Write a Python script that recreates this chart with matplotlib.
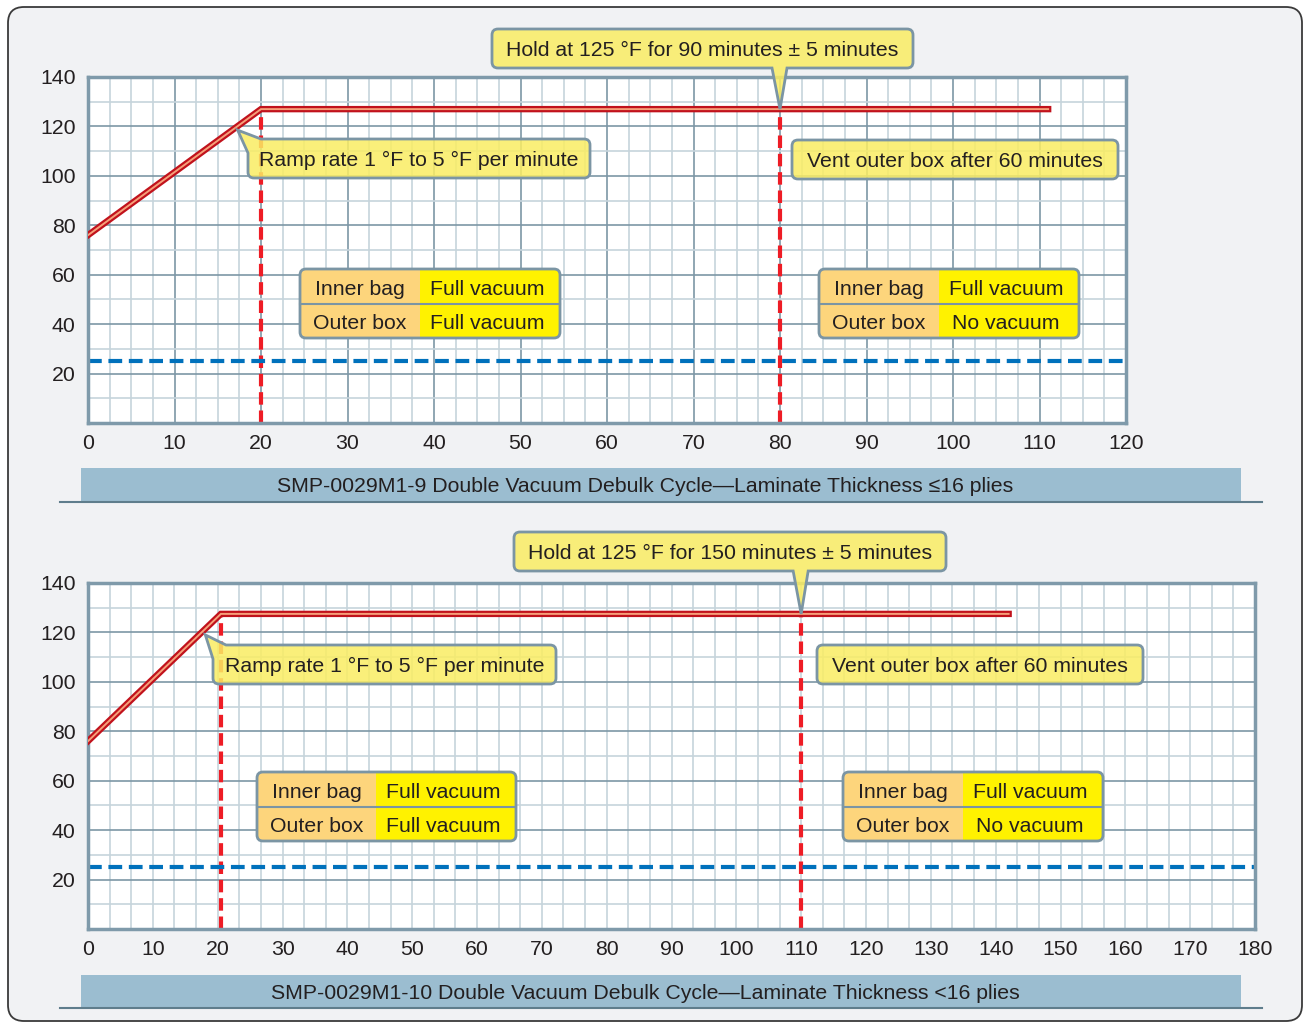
import numpy as np
import matplotlib
matplotlib.use("Agg")
import matplotlib.pyplot as plt
from matplotlib.path import Path
from matplotlib.patches import PathPatch, Rectangle, FancyBboxPatch

plt.rcParams['font.family'] = ['Liberation Sans', 'DejaVu Sans']

W, H = 1308, 1025
FS = 15.3

# ---- data ----
# upper chart: SMP-0029M1-9
times_top = [0, 20, 111]
temps_top = [76, 127, 127]
vent_lines_top = [20, 80]
# lower chart: SMP-0029M1-10
times_bot = [0, 20.5, 142]
temps_bot = [76, 127.5, 127.5]
vent_lines_bot = [20.5, 110]
vacuum_level = 25

xmax_top, xmax_bot = 120, 180
ylim = (0, 140)
yticks = [20, 40, 60, 80, 100, 120, 140]

hold_text_top = "Hold at 125 °F for 90 minutes ± 5 minutes"
hold_text_bot = "Hold at 125 °F for 150 minutes ± 5 minutes"
ramp_text = "Ramp rate 1 °F to 5 °F per minute"
vent_text = "Vent outer box after 60 minutes"
table_rows = ["Inner bag", "Outer box"]
table_left = ["Full vacuum", "Full vacuum"]
table_right = ["Full vacuum", "No vacuum"]
caption_top = "SMP-0029M1-9 Double Vacuum Debulk Cycle\u2014Laminate Thickness \u226416 plies"
caption_bot = "SMP-0029M1-10 Double Vacuum Debulk Cycle\u2014Laminate Thickness <16 plies"

# ---- colours ----
TXT = '#231f20'
MAJ = '#7d97a6'
MIN = '#c6d4dc'
EDGE = '#7b95a4'
CALLOUT = '#faed63'
ORANGE = '#fdd57c'
YELLOW = '#fff200'

fig = plt.figure(figsize=(W / 100, H / 100), dpi=100)
fig.patch.set_facecolor('white')


def px_axes(l, t, r, b, z):
    a = fig.add_axes([l / W, 1 - b / H, (r - l) / W, (b - t) / H])
    a.set_zorder(z)
    return a


# background layer (frame + captions), pixel coords
bg = px_axes(0, 0, W, H, 0)
bg.set_xlim(0, W)
bg.set_ylim(H, 0)
bg.axis('off')
bg.add_patch(FancyBboxPatch((8, 7), 1294, 1014, boxstyle="round,pad=0,rounding_size=16",
                            fc='#f1f2f4', ec='#3a3a3a', lw=1.3))
for y0, y1, txt in [(468, 502, caption_top), (975, 1008, caption_bot)]:
    bg.add_patch(Rectangle((81, y0), 1160, y1 - y0, fc='#9bbdd0', ec='none'))
    bg.plot([60, 1262], [y1, y1], color='#5f7d8c', lw=1.5)
    bg.text(645, (y0 + y1) / 2 + 2, txt, ha='center', va='center', fontsize=FS, color=TXT)


def setup_chart(ax, xmax, minor_step, dark_vertical):
    ax.set_facecolor('white')
    ax.set_xlim(0, xmax)
    ax.set_ylim(*ylim)
    ax.set_xticks(np.arange(0, xmax + 1, 10))
    ax.set_xticks(np.arange(0, xmax + 0.01, minor_step), minor=True)
    ax.set_yticks(yticks)
    ax.set_yticks(np.arange(10, 140, 20), minor=True)
    ax.set_axisbelow(True)
    ax.grid(axis='y', which='major', color=MAJ, lw=1.2)
    ax.grid(axis='y', which='minor', color=MIN, lw=1.2)
    ax.grid(axis='x', which='major', color=MAJ if dark_vertical else MIN, lw=1.2)
    ax.grid(axis='x', which='minor', color=MIN, lw=1.2)
    ax.tick_params(which='both', length=0, labelsize=FS, labelcolor=TXT)
    ax.tick_params(axis='x', pad=8)
    ax.tick_params(axis='y', pad=9)
    for s in ax.spines.values():
        s.set_color('#7f9aaa')
        s.set_linewidth(2.5)


def draw_cycle(ax, times, temps, vents):
    ax.plot(times, temps, color='#c1121c', lw=4.6, solid_joinstyle='miter', zorder=3)
    ax.plot(times, temps, color='#f6a07a', lw=1.4, solid_joinstyle='miter', zorder=3.1)
    ax.vlines(vents, ylim[0], temps[-1], colors='#ee1c25', lw=3,
              linestyles=[(0, (3, 1.4))], zorder=2.5)
    ax.axhline(vacuum_level, color='#0071bc', lw=3, ls=(0, (3.3, 1.6)), zorder=2.5)


ax1 = px_axes(88, 77, 1126, 423, 1)
setup_chart(ax1, xmax_top, 2.5, True)
draw_cycle(ax1, times_top, temps_top, vent_lines_top)

ax2 = px_axes(88, 583, 1255, 929, 1)
setup_chart(ax2, xmax_bot, 10 / 3, False)
draw_cycle(ax2, times_bot, temps_bot, vent_lines_bot)

# overlay layer for callouts and tables, pixel coords (y down)
ov = px_axes(0, 0, W, H, 3)
ov.set_xlim(0, W)
ov.set_ylim(H, 0)
ov.axis('off')
ov.patch.set_alpha(0)


def to_px(ax, x, y):
    dx, dy = ax.transData.transform((x, y))
    return dx, H - dy


def rounded_path(pts):
    verts, codes = [], []
    n = len(pts)
    for i, (x, y, r) in enumerate(pts):
        p = np.array([x, y], float)
        if r == 0:
            verts.append(p)
            codes.append(Path.LINETO)
            continue
        a = np.array(pts[i - 1][:2], float)
        b = np.array(pts[(i + 1) % n][:2], float)
        p1 = p + r * (a - p) / np.linalg.norm(a - p)
        p2 = p + r * (b - p) / np.linalg.norm(b - p)
        verts += [p1, p, p2]
        codes += [Path.LINETO, Path.CURVE3, Path.CURVE3]
    codes[0] = Path.MOVETO
    verts.append(verts[0])
    codes.append(Path.CLOSEPOLY)
    return Path(verts, codes)


R = 6


def callout(x0, y0, x1, y1, text, tip=None, kind=None):
    if kind == 'bottom':
        tx, ty = tip
        pts = [(x0, y0, R), (x1, y0, R), (x1, y1, R),
               (tx + 7, y1, 0), (tx, ty, 0), (tx - 8, y1, 0), (x0, y1, R)]
    elif kind == 'topleft':
        tx, ty = tip
        pts = [(x0 + 13, y0, 0), (x1, y0, R), (x1, y1, R), (x0, y1, R),
               (x0, y0 + 14, 0), (tx, ty, 0)]
    else:
        pts = [(x0, y0, R), (x1, y0, R), (x1, y1, R), (x0, y1, R)]
    ov.add_patch(PathPatch(rounded_path(pts), fc=CALLOUT, alpha=0.85, ec='none', zorder=4))
    ov.add_patch(PathPatch(rounded_path(pts), fc='none', ec=EDGE, lw=2, zorder=4.1))
    ov.text((x0 + x1) / 2, (y0 + y1) / 2 + 2, text, ha='center', va='center',
            fontsize=FS, color=TXT, zorder=5)


def table(x0, y0, x1, y1, xs, right_vals):
    path = rounded_path([(x0, y0, R), (x1, y0, R), (x1, y1, R), (x0, y1, R)])
    base = PathPatch(path, fc=YELLOW, ec='none', zorder=4)
    ov.add_patch(base)
    left = Rectangle((x0, y0), xs - x0, y1 - y0, fc=ORANGE, ec='none', zorder=4.05)
    ov.add_patch(left)
    left.set_clip_path(base)
    ym = (y0 + y1) / 2
    ov.plot([x0, x1], [ym, ym], color=EDGE, lw=1.5, zorder=4.08)
    ov.add_patch(PathPatch(path, fc='none', ec=EDGE, lw=2, zorder=4.1))
    for k, (lab, val) in enumerate(zip(table_rows, right_vals)):
        yc = y0 + (k + 0.5) * (y1 - y0) / 2 + 3
        ov.text((x0 + xs) / 2, yc, lab, ha='center', va='center', fontsize=FS, color=TXT, zorder=5)
        ov.text((xs + x1) / 2 - 3, yc, val, ha='center', va='center', fontsize=FS, color=TXT, zorder=5)


# upper chart annotations
callout(492, 29, 913, 68, hold_text_top, to_px(ax1, vent_lines_top[1], temps_top[-1]), 'bottom')
callout(248, 139, 590, 178, ramp_text, to_px(ax1, 17.3, 118.5), 'topleft')
callout(792, 140, 1118, 179, vent_text)
table(300, 269, 560, 338, 420, table_left)
table(819, 269, 1079, 338, 939, table_right)

# lower chart annotations
callout(514, 532, 946, 571, hold_text_bot, to_px(ax2, vent_lines_bot[1], temps_bot[-1]), 'bottom')
callout(213, 645, 556, 684, ramp_text, to_px(ax2, 18.1, 119), 'topleft')
callout(817, 645, 1143, 684, vent_text)
table(257, 772, 516, 841, 376, table_left)
table(843, 772, 1103, 841, 963, table_right)

fig.savefig('out.png', dpi=100)
